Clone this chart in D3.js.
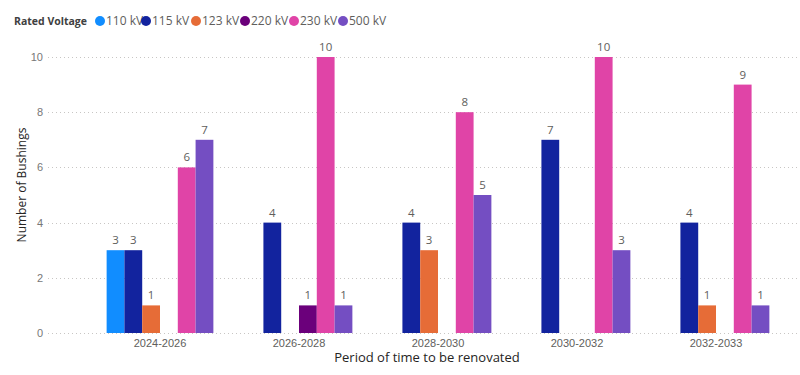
<!DOCTYPE html>
<html>
<head>
<meta charset="utf-8">
<script src="https://cdn.jsdelivr.net/npm/d3@7"></script>
<style>
  body { margin: 0; background: #fff; }
  svg { display: block; font-family: "Segoe UI", "Open Sans", "Noto Sans", sans-serif; }
</style>
</head>
<body>
<svg id="chart" width="800" height="375"></svg>
<script>
// Data
const periods = ["2024-2026", "2026-2028", "2028-2030", "2030-2032", "2032-2033"];
const voltages = ["110 kV", "115 kV", "123 kV", "220 kV", "230 kV", "500 kV"];
const voltageColors = ["#118DFF", "#12239E", "#E66C37", "#6B007B", "#E044A7", "#744EC2"];
// one array per voltage, indexed by period (null = no bar)
const kv110 = [3, null, null, null, null];
const kv115 = [3, 4, 4, 7, 4];
const kv123 = [1, null, 3, null, 1];
const kv220 = [null, 1, null, null, null];
const kv230 = [6, 10, 8, 10, 9];
const kv500 = [7, 1, 5, 3, 1];
const yTicks = [0, 2, 4, 6, 8, 10];

const seriesValues = [kv110, kv115, kv123, kv220, kv230, kv500];

const svg = d3.select("#chart");
const tickColor = "#605E5C";
const titleColor = "#252423";

// Scales
const x0 = d3.scaleBand()
  .domain(periods)
  .range([90.5, 785.5])
  .paddingInner(0.232)
  .paddingOuter(0.116);

const x1 = d3.scaleBand()
  .domain(voltages)
  .range([0, x0.bandwidth()]);

const y = d3.scaleLinear()
  .domain([0, 10])
  .range([333, 57]);

const color = d3.scaleOrdinal().domain(voltages).range(voltageColors);

// Gridlines
svg.append("g")
  .selectAll("line")
  .data(yTicks)
  .join("line")
  .attr("x1", 48)
  .attr("x2", 800)
  .attr("y1", d => Math.round(y(d)) + 0.5)
  .attr("y2", d => Math.round(y(d)) + 0.5)
  .attr("stroke", "#C8C6C4")
  .attr("stroke-width", 1)
  .attr("stroke-dasharray", "1,3");

// Y axis
const yAxis = svg.append("g")
  .attr("transform", "translate(43,0)")
  .call(d3.axisLeft(y).tickValues(yTicks).tickSize(0).tickPadding(0));
yAxis.select(".domain").remove();
yAxis.selectAll("text")
  .attr("fill", "#777")
  .style("font-size", "11px");

// X axis
const xAxis = svg.append("g")
  .attr("transform", "translate(0,336)")
  .call(d3.axisBottom(x0).tickSize(0).tickPadding(3));
xAxis.select(".domain").remove();
xAxis.selectAll("text")
  .attr("fill", tickColor)
  .style("font-size", "11px");

// Axis titles
svg.append("text")
  .attr("x", 427)
  .attr("y", 362)
  .attr("text-anchor", "middle")
  .attr("fill", titleColor)
  .style("font-size", "13px")
  .text("Period of time to be renovated");

svg.append("text")
  .attr("transform", "translate(26,185) rotate(-90)")
  .attr("text-anchor", "middle")
  .attr("fill", titleColor)
  .style("font-size", "12px")
  .text("Number of Bushings");

// Bars
const rows = periods.map((p, i) => ({
  period: p,
  values: voltages.map((v, j) => ({ voltage: v, value: seriesValues[j][i] }))
    .filter(d => d.value !== null)
}));

const groups = svg.append("g")
  .selectAll("g")
  .data(rows)
  .join("g")
  .attr("transform", d => `translate(${x0(d.period)},0)`);

groups.selectAll("rect")
  .data(d => d.values)
  .join("rect")
  .attr("x", d => x1(d.voltage))
  .attr("y", d => y(d.value))
  .attr("width", x1.bandwidth())
  .attr("height", d => y(0) - y(d.value))
  .attr("fill", d => color(d.voltage));

groups.selectAll("text")
  .data(d => d.values)
  .join("text")
  .attr("x", d => x1(d.voltage) + x1.bandwidth() / 2)
  .attr("y", d => y(d.value) - 6)
  .attr("text-anchor", "middle")
  .attr("fill", tickColor)
  .style("font-size", "11.5px")
  .text(d => d.value);

// Legend
const legend = svg.append("g").attr("transform", "translate(14,21)");
legend.append("text")
  .attr("x", 0)
  .attr("dy", "0.35em")
  .attr("fill", "#404040")
  .style("font-size", "11px")
  .style("font-weight", "bold")
  .attr("textLength", 73)
  .attr("lengthAdjust", "spacingAndGlyphs")
  .text("Rated Voltage");

const legendX = [100, 146, 196, 245, 294, 343];
const items = legend.selectAll("g.item")
  .data(voltages)
  .join("g")
  .attr("class", "item")
  .attr("transform", (d, i) => `translate(${legendX[i] - 14},0)`);

items.append("circle")
  .attr("r", 5)
  .attr("fill", d => color(d));

items.append("text")
  .attr("x", 6)
  .attr("dy", "0.35em")
  .attr("fill", tickColor)
  .style("font-size", "12px")
  .text(d => d);
</script>
</body>
</html>
